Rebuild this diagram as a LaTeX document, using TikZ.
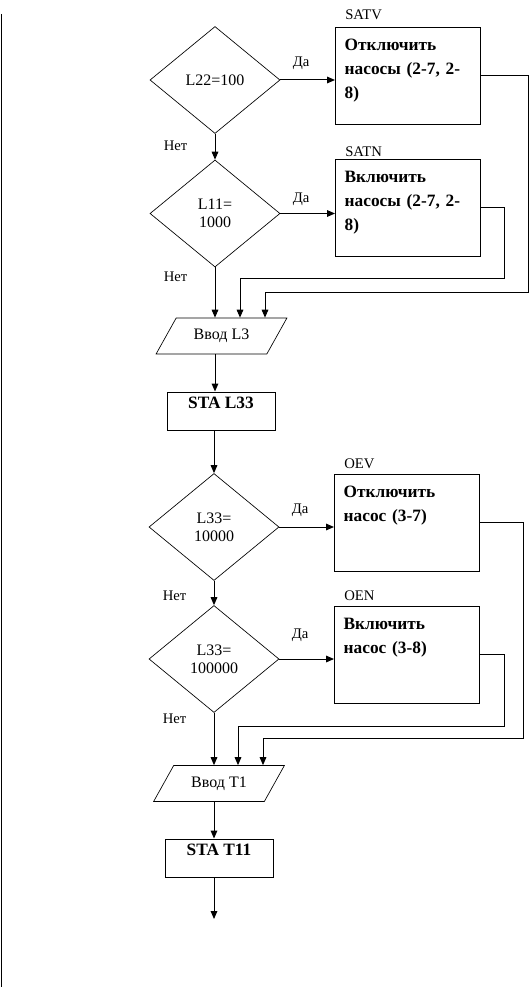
\documentclass[tikz,border=0pt]{standalone}
\usepackage{fontspec}
\setmainfont{Liberation Serif}
\usetikzlibrary{arrows.meta,shapes.geometric,calc}
\tikzset{
   arrow/.style = {-{Triangle[length=6pt,width=5pt]}, line width=0.75pt},
   decision/.style = {diamond, draw, line width=0.5pt, minimum width=97.5pt, minimum height=80.25pt,
      inner sep=0pt, align=center, font=\fontsize{12}{13.5}\selectfont},
   action/.style = {rectangle, draw, line width=0.75pt, anchor=north west, minimum width=108.75pt,
      text width=95pt, align=left, inner xsep=6.75pt, inner ysep=9pt, text height=8.6pt,
      text depth=46.1pt, font=\fontsize{13}{18}\selectfont\bfseries},
   inout/.style = {trapezium, trapezium left angle=48, trapezium right angle=132, trapezium stretches=true,
      draw, line width=0.5pt, minimum width=98.25pt, minimum height=27pt, inner sep=0pt,
      font=\fontsize{12}{14}\selectfont},
   store/.style = {rectangle, draw, line width=0.75pt, minimum width=81pt, inner ysep=4pt,
      text height=8.6pt, text depth=11.9pt, font=\fontsize{13}{15}\selectfont\bfseries},
   tag/.style = {font=\fontsize{11}{13}\selectfont},
}

\begin{document}
\begin{tikzpicture}[x=0.75pt,y=-0.75pt]
      \useasboundingbox (0,0) rectangle (528,987);

      % page margin
      \draw[line width=0.75pt] (1.5,14) -- (1.5,987);

      % level L2
      \node[decision] (d1) at (215,80) {L22=100};
      \node[decision] (d2) at (215,213.5) {L11=\\1000};
      \node[action] (satv) at (335,27) {Отключить\\насосы (2-7, 2-\\8)};
      \node[action] (satn) at (335,159) {Включить\\насосы (2-7, 2-\\8)};
      \node[tag, anchor=base west] (satvtag) at ([xshift=4.2pt,yshift=5.8pt]satv.north west) {SATV};
      \node[tag, anchor=base west] (satntag) at ([xshift=4.2pt,yshift=1.7pt]satn.north west) {SATN};

      \node[inout] (inl3) at (221.5,336) {Ввод L3};
      \node[store] (stal) at (221,411) {STA L33};

      % level L3
      \node[decision] (d3) at (214,527) {L33=\\10000};
      \node[decision] (d4) at (214,659) {L33=\\100000};
      \node[action] (oev) at (334,474) {Отключить\\насос (3-7)};
      \node[action] (oen) at (334,606) {Включить\\насос (3-8)};
      \node[tag, anchor=base west] (oevtag) at ([xshift=4.2pt,yshift=4.5pt]oev.north west) {OEV};
      \node[tag, anchor=base west] (oentag) at ([xshift=4.2pt,yshift=4.5pt]oen.north west) {OEN};

      \node[inout] (int1) at (219,783.5) {Ввод T1};
      \node[store] (stat) at (219,858) {STA T11};
      \coordinate (exit) at (214,919);

      \draw[arrow] (d1.east)  -- node[tag, above=4pt, pos=0.38] (yes1) {Да} (d1.east -| satv.west);
      \draw[arrow] (d1.south) -- node[tag, left=17pt, pos=0.48] (no1) {Нет} (d2.north);
      \draw[arrow] (d2.east)  -- node[tag, above=2pt, pos=0.38] (yes2) {Да} (d2.east -| satn.west);
      \draw[arrow] (d2.south) -- node[tag, left=17pt, pos=0.18] (no2) {Нет} (d2.south |- inl3.north);
      \draw[arrow] (satn.east) -| ($(satn.east)+(23,70.5)$) -| ($(inl3.north)+(18.5,0)$);
      \draw[arrow] (satv.east) -| ($(satv.east)+(47,216.5)$) -| ($(inl3.north)+(43.5,0)$);
      \draw[arrow] (inl3.south -| d2.south) -- (stal.north -| d2.south);
      \draw[arrow] (stal.south -| d3.north) -- (d3.north);

      \draw[arrow] (d3.east)  -- node[tag, above=4pt, pos=0.38] (yes3) {Да} (d3.east -| oev.west);
      \draw[arrow] (d3.south) -- node[tag, left=17pt, pos=0.6] (no3) {Нет} (d4.north);
      \draw[arrow] (d4.east)  -- node[tag, above=9pt, pos=0.38] (yes4) {Да} (d4.east -| oen.west);
      \draw[arrow] (d4.south) -- node[tag, left=17pt, pos=0.12] (no4) {Нет} (d4.south |- int1.north);
      \draw[arrow] (oen.east) -| ($(oen.east)+(24,72)$) -| ($(int1.north)+(19,0)$);
      \draw[arrow] (oev.east) -| ($(oev.east)+(43,215.5)$) -| ($(int1.north)+(44,0)$);
      \draw[arrow] (int1.south -| d4.south) -- (stat.north -| d4.south);
      \draw[arrow] (stat.south -| exit) -- (exit);

\end{tikzpicture}
\end{document}
